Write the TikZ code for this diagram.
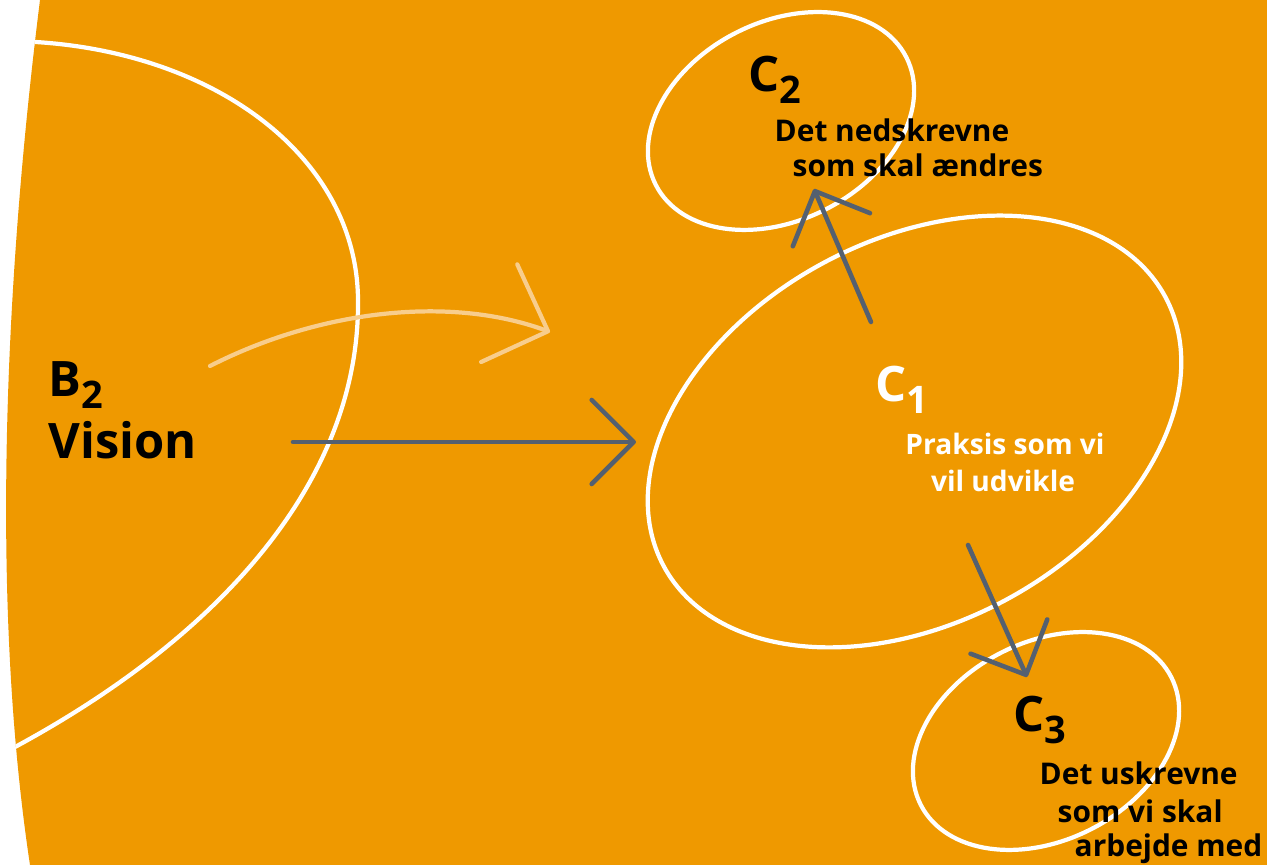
\documentclass[tikz,border=0pt]{standalone}
\usepackage{fontspec}
\setmainfont{Open Sans}
\usetikzlibrary{arrows.meta,shapes.geometric}
\definecolor{bgorange}{RGB}{239,153,0}
\definecolor{slate}{RGB}{84,96,112}
\definecolor{peach}{RGB}{248,205,140}
\newcommand{\biglab}[2]{{\fontsize{13.9}{16}\selectfont\bfseries #1\raisebox{-3.4pt}{\fontsize{10.8}{12}\selectfont #2}}}
\begin{document}
\begin{tikzpicture}[x=0.01cm,y=-0.01cm,
  ring/.style={draw=white,line width=1.2pt},
  darrow/.style={draw=slate,line width=1.3pt,line cap=round,-{Straight Barb[length=0.42cm,width=0.84cm,round]}},
  larrow/.style={draw=peach,line width=1.2pt,line cap=round,-{Straight Barb[length=0.52cm,width=1.04cm,round]}},
  txt/.style={inner sep=0pt,anchor=base west,font=\bfseries},
  ctxt/.style={inner sep=0pt,anchor=base,font=\bfseries}]
\useasboundingbox (0,0) rectangle (1267,865);
\fill[white] (0,0) rectangle (1267,865);
\fill[bgorange] (40,0) .. controls (5,280) and (-10,600) .. (30,865) -- (1267,865) -- (1267,0) -- cycle;
\begin{scope}
  \clip (40,0) .. controls (5,280) and (-10,600) .. (30,865) -- (1267,865) -- (1267,0) -- cycle;
  \draw[ring] (0,41) .. controls (200,40) and (357,150) .. (358,300) .. controls (360,480) and (220,640) .. (0,755);
\end{scope}
% ellipses
\node[ellipse,ring,inner sep=0pt,minimum width=5.69cm,minimum height=3.83cm,rotate=28.2] (c1) at (914.5,431.5) {};
\node[ellipse,ring,inner sep=0pt,minimum width=2.81cm,minimum height=1.98cm,rotate=27] (c2) at (781,121) {};
\node[ellipse,ring,inner sep=0pt,minimum width=2.81cm,minimum height=1.98cm,rotate=27] (c3) at (1046,741) {};
% arrow ends
\coordinate (l1) at (210,366);
\coordinate (l2) at (550,332);
\coordinate (a1s) at (293,442);
\coordinate (a1e) at (636,442);
\coordinate (a2s) at (871,322);
\coordinate (a2e) at (814,189);
\coordinate (a3s) at (968,545);
\coordinate (a3e) at (1027,677);
\draw[larrow] (l1) .. controls (320,310) and (450,295) .. (l2);
\draw[darrow] (a1s) -- (a1e);
\draw[darrow] (a2s) -- (a2e);
\draw[darrow] (a3s) -- (a3e);
% texts
\node[txt] (b2) at (48,397) {\biglab{B}{2}};
\node[txt,font=\bfseries\fontsize{13.9}{16}\selectfont] (vis) at (48,459) {Vision};
\node[txt,text=white] (c1l) at (875,402) {\biglab{C}{1}};
\node[ctxt,text=white,font=\bfseries\fontsize{8}{10}\selectfont] (c1t1) at (1005,455) {Praksis som vi};
\node[ctxt,text=white,font=\bfseries\fontsize{8}{10}\selectfont] (c1t2) at (1003,492) {vil udvikle};
\node[txt] (c2l) at (748,92) {\biglab{C}{2}};
\node[txt,font=\bfseries\fontsize{8.5}{10}\selectfont] (c2t1) at (774,142) {Det nedskrevne};
\node[txt,font=\bfseries\fontsize{8.5}{10}\selectfont] (c2t2) at (792,177) {som skal ændres};
\node[txt] (c3l) at (1013,732) {\biglab{C}{3}};
\node[txt,font=\bfseries\fontsize{8.5}{10}\selectfont] (c3t1) at (1039,785) {Det uskrevne};
\node[txt,font=\bfseries\fontsize{8.5}{10}\selectfont] (c3t2) at (1057,823) {som vi skal};
\node[txt,font=\bfseries\fontsize{8.5}{10}\selectfont] (c3t3) at (1074,857) {arbejde med};
\end{tikzpicture}
\end{document}
